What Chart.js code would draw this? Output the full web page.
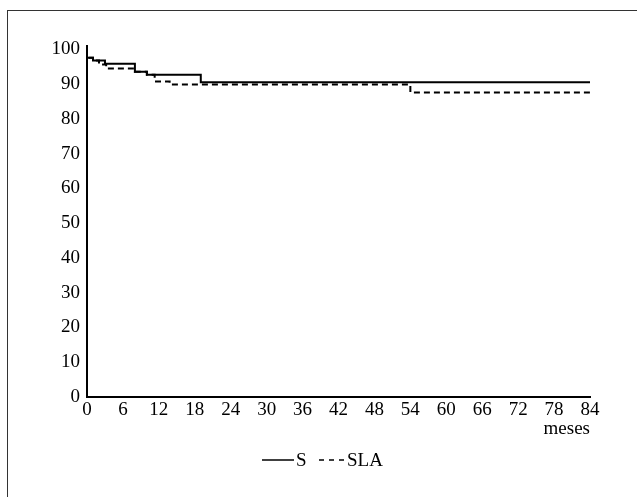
<!DOCTYPE html>
<html>
<head>
<meta charset="utf-8">
<script src="https://cdn.jsdelivr.net/npm/chart.js@4.4.0/dist/chart.umd.min.js"></script>
<style>
  html, body { margin: 0; padding: 0; background: #fff; }
  #wrap { position: relative; width: 637px; height: 497px; }
  #frame { position: absolute; left: 7px; top: 10px; right: 0; bottom: 0;
           border-top: 1px solid #333; border-left: 1px solid #333; pointer-events: none; }
</style>
</head>
<body>
<div id="wrap">
  <canvas id="chart" width="637" height="497"></canvas>
  <div id="frame"></div>
</div>
<script>
// survival curves (Kaplan-Meier style), months vs %
const sMonths   = [0, 0, 1, 3, 8, 10, 19, 84];
const sValues   = [100, 97.6, 96.8, 95.9, 93.6, 92.7, 90.6, 90.6];
const slaMonths = [0, 0, 1, 2, 3.2, 8, 10, 11.3, 13.8, 54, 84];
const slaValues = [100, 97.6, 96.8, 95.7, 94.5, 93.6, 92.7, 90.8, 89.9, 87.6, 87.6];

const xTicks = [0, 6, 12, 18, 24, 30, 36, 42, 48, 54, 60, 66, 72, 78, 84];
const yTicks = [0, 10, 20, 30, 40, 50, 60, 70, 80, 90, 100];
const seriesLabels = ['S', 'SLA'];

const serif = 'Liberation Serif, Times New Roman, serif';

function toPoints(xs, ys) {
    return xs.map((x, i) => ({ x: x, y: ys[i] }));
}

// legend drawn under the axis title: solid line "S", dashed line "SLA"
const bottomLegend = {
    id: 'bottomLegend',
    afterDraw(chart) {
        const ctx = chart.ctx;
        const y = 460;
        ctx.save();
        ctx.strokeStyle = '#000';
        ctx.fillStyle = '#000';
        ctx.lineWidth = 1.5;
        ctx.font = '19px ' + serif;
        ctx.textBaseline = 'middle';

        ctx.beginPath();
        ctx.moveTo(262, y);
        ctx.lineTo(294, y);
        ctx.stroke();
        ctx.fillText(chart.data.datasets[0].label, 296, y + 1);

        ctx.setLineDash([5, 5]);
        ctx.beginPath();
        ctx.moveTo(319, y);
        ctx.lineTo(346, y);
        ctx.stroke();
        ctx.setLineDash([]);
        ctx.fillText(chart.data.datasets[1].label, 347, y + 1);
        ctx.restore();
    }
};

new Chart(document.getElementById('chart'), {
    type: 'line',
    data: {
        datasets: [
            {
                label: seriesLabels[0],
                data: toPoints(sMonths, sValues),
                borderColor: '#000',
                borderWidth: 2,
                stepped: 'before',
                pointRadius: 0,
                fill: false
            },
            {
                label: seriesLabels[1],
                data: toPoints(slaMonths, slaValues),
                borderColor: '#000',
                borderWidth: 2,
                borderDash: [6, 4],
                stepped: 'before',
                pointRadius: 0,
                fill: false
            }
        ]
    },
    options: {
        responsive: false,
        animation: false,
        layout: { padding: { top: 46, right: 47, bottom: 57, left: 0 } },
        plugins: {
            legend: { display: false },
            tooltip: { enabled: false }
        },
        scales: {
            x: {
                type: 'linear',
                min: 0,
                max: 84,
                afterBuildTicks: (scale) => { scale.ticks = xTicks.map(v => ({ value: v })); },
                afterFit: (scale) => { scale.height = 43; },
                grid: { drawOnChartArea: false, drawTicks: false },
                border: { display: true, color: '#000', width: 2 },
                ticks: {
                    color: '#000',
                    padding: 2,
                    maxRotation: 0,
                    autoSkip: false,
                    font: { family: serif, size: 19 }
                },
                title: {
                    display: true,
                    text: 'meses',
                    align: 'end',
                    color: '#000',
                    padding: { top: 0, bottom: 0 },
                    font: { family: serif, size: 19 }
                }
            },
            y: {
                min: 0,
                max: 101,
                afterBuildTicks: (scale) => { scale.ticks = yTicks.map(v => ({ value: v })); },
                afterFit: (scale) => { scale.width = 87; },
                grid: { drawOnChartArea: false, drawTicks: false },
                border: { display: true, color: '#000', width: 2 },
                ticks: {
                    color: '#000',
                    padding: 7,
                    autoSkip: false,
                    font: { family: serif, size: 19 }
                }
            }
        }
    },
    plugins: [bottomLegend]
});
</script>
</body>
</html>
